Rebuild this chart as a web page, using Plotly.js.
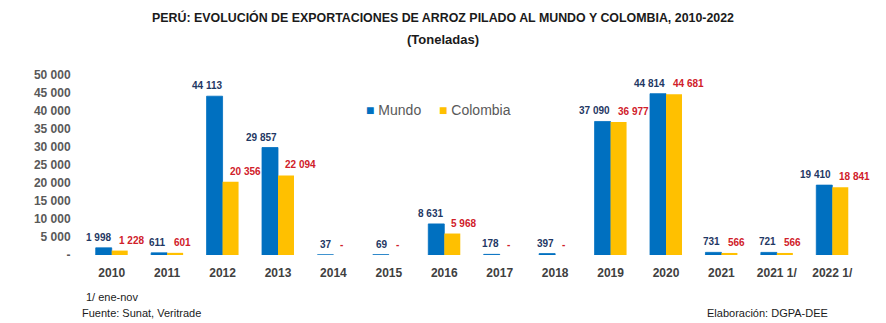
<!DOCTYPE html>
<html><head><meta charset="utf-8">
<script src="https://cdn.plot.ly/plotly-3.0.1.min.js"></script>
<style>html,body{margin:0;padding:0;background:#fff}#chart{width:886px;height:323px}</style>
</head><body><div id="chart"></div>
<script>
const categories = ["2010","2011","2012","2013","2014","2015","2016","2017","2018","2019","2020","2021","2021 1/","2022 1/"];
const mundo = [1998, 611, 44113, 29857, 37, 69, 8631, 178, 397, 37090, 44814, 731, 721, 19410];
const colombia = [1228, 601, 20356, 22094, 0, 0, 5968, 0, 0, 36977, 44681, 566, 566, 18841];
const seriesNames = ["Mundo", "Colombia"];
const seriesColors = ["#0070C0", "#FFC000"];
const yTickVals = [0, 5000, 10000, 15000, 20000, 25000, 30000, 35000, 40000, 45000, 50000];
const yTickText = ["-", "5 000", "10 000", "15 000", "20 000", "25 000", "30 000", "35 000", "40 000", "45 000", "50 000"];

const FN = "Liberation Sans Narrow, Arial Narrow, Liberation Sans, sans-serif";
const fmt = v => v === 0 ? "-" : String(v).replace(/\B(?=(\d{3})+(?!\d))/g, " ");

const traces = [
  {type:"bar", name:seriesNames[0], x:categories, y:mundo, marker:{color:seriesColors[0], line:{color:seriesColors[0], width:0.8}}, hoverinfo:"none", showlegend:false},
  {type:"bar", name:seriesNames[1], x:categories, y:colombia, marker:{color:seriesColors[1], line:{width:0}}, hoverinfo:"none", showlegend:false}
];

const annotations = [];
categories.forEach((c, i) => {
  annotations.push({x:i, y:mundo[i], xref:"x", yref:"y", text:fmt(mundo[i]), showarrow:false,
    xanchor:"right", yanchor:"bottom", xshift:1, yshift:3, font:{family:FN, size:10, color:"#1F3864", weight:"bold"}});
  annotations.push({x:i, y:colombia[i], xref:"x", yref:"y", text:fmt(colombia[i]), showarrow:false,
    xanchor:"left", yanchor:"bottom", xshift:5, yshift:3, font:{family:FN, size:10, color:"#D0202A", weight:"bold"}});
});
// legend
const legX = [0.361, 0.455];
seriesNames.forEach((n, k) => {
  annotations.push({text:"<span style='color:" + seriesColors[k] + "'>■</span> " + n, xref:"paper", yref:"paper", x:legX[k], y:0.805,
    xanchor:"left", yanchor:"middle", showarrow:false, font:{family:"Liberation Sans, Arial, sans-serif", size:14, color:"#595959"}});
});
annotations.push({text:"PERÚ: EVOLUCIÓN DE EXPORTACIONES DE ARROZ PILADO AL MUNDO Y COLOMBIA, 2010-2022", xref:"paper", yref:"paper", x:0.462, y:1.322, xanchor:"center", yanchor:"middle", showarrow:false, font:{family:FN, size:12.4, color:"#1a1a1a", weight:"bold"}});
annotations.push({text:"(Toneladas)", xref:"paper", yref:"paper", x:0.462, y:1.2, xanchor:"center", yanchor:"middle", showarrow:false, font:{family:FN, size:13, color:"#1a1a1a", weight:"bold"}});
annotations.push({text:"1/ ene-nov", xref:"paper", yref:"paper", x:0.0, y:-0.233, xanchor:"left", yanchor:"middle", showarrow:false, font:{family:FN, size:11, color:"#1a1a1a"}});
annotations.push({text:"Fuente: Sunat, Veritrade", xref:"paper", yref:"paper", x:-0.005, y:-0.322, xanchor:"left", yanchor:"middle", showarrow:false, font:{family:FN, size:11, color:"#1a1a1a"}});
annotations.push({text:"Elaboración: DGPA-DEE", xref:"paper", yref:"paper", x:0.961, y:-0.322, xanchor:"right", yanchor:"middle", showarrow:false, font:{family:FN, size:11, color:"#1a1a1a"}});

const layout = {
  width:886, height:323,
  margin:{l:84, r:26, t:75, b:68, pad:0},
  paper_bgcolor:"#ffffff", plot_bgcolor:"#ffffff",
  barmode:"group", bargap:0.423, bargroupgap:0,
  showlegend:false,
  xaxis:{type:"category", range:[-0.5, 13.5], showgrid:false, zeroline:false, showline:false, ticks:"outside", ticklen:7, tickcolor:"rgba(0,0,0,0)",
    tickfont:{family:FN, size:12, color:"#404040", weight:"bold"}},
  yaxis:{range:[0,50000], tickvals:yTickVals, ticktext:yTickText, showgrid:false, zeroline:false, showline:false,
    ticks:"outside", ticklen:10, tickcolor:"rgba(0,0,0,0)", tickfont:{family:FN, size:12, color:"#595959", weight:"bold"}},
  annotations:annotations
};
Plotly.newPlot("chart", traces, layout, {staticPlot:true, displayModeBar:false});
</script></body></html>
